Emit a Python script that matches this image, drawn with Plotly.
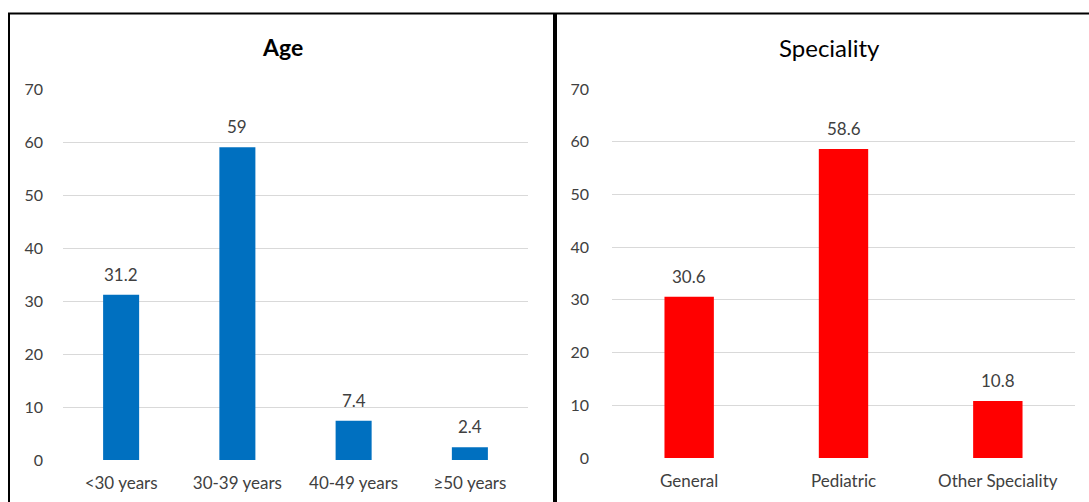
import plotly.graph_objects as go

# Age distribution (%)
age_groups = ["<30 years", "30-39 years", "40-49 years", "≥50 years"]
age_pct = [31.2, 59, 7.4, 2.4]

# Speciality distribution (%)
specialities = ["General", "Pediatric", "Other Speciality"]
spec_pct = [30.6, 58.6, 10.8]

y_ticks = [0, 10, 20, 30, 40, 50, 60, 70]

W, H = 1089, 502
FONT = "Lato"
TXT = "#404040"


def px_x(p):
    return p / W


def px_y(p):
    return (H - p) / H


fig = go.Figure()

fig.add_trace(go.Bar(
    x=age_groups, y=age_pct, xaxis="x", yaxis="y", width=0.31,
    marker=dict(color="#0070C0", line=dict(width=0)),
    hoverinfo="x+y",
))
fig.add_trace(go.Bar(
    x=specialities, y=spec_pct, xaxis="x2", yaxis="y2", width=0.32,
    marker=dict(color="#FF0000", line=dict(width=0)),
    hoverinfo="x+y",
))

# value labels above each bar
annotations = []
for cats, vals, xa, ya in [(age_groups, age_pct, "x", "y"),
                           (specialities, spec_pct, "x2", "y2")]:
    for c, v in zip(cats, vals):
        annotations.append(dict(
            x=c, y=v, xref=xa, yref=ya, text=f"{v:g}", showarrow=False,
            yanchor="bottom", yshift=8,
            font=dict(family=FONT, size=17, color=TXT),
        ))

# panel titles
annotations.append(dict(
    x=px_x(282), y=px_y(47), xref="paper", yref="paper", text="<b>Age</b>",
    showarrow=False, xanchor="center", yanchor="middle",
    font=dict(family=FONT, size=23, color="#000000"),
))
annotations.append(dict(
    x=px_x(829), y=px_y(47), xref="paper", yref="paper", text="Speciality",
    showarrow=False, xanchor="center", yanchor="middle",
    font=dict(family=FONT, size=24, color="#000000"),
))

axis_common = dict(
    showline=False, zeroline=False, ticks="", automargin=False,
    fixedrange=True,
)
xaxis_common = dict(
    axis_common, showgrid=False, ticklabelstandoff=11,
    tickfont=dict(family=FONT, size=17, color=TXT),
)
yaxis_common = dict(
    axis_common, range=[0, 70], tickvals=y_ticks,
    showgrid=True, gridcolor="#D9D9D9", gridwidth=1,
    tickfont=dict(family=FONT, size=16, color=TXT),
)

# panel frames
shapes = [
    dict(type="line", xref="paper", yref="paper",
         x0=px_x(8), x1=1, y0=px_y(13.5), y1=px_y(13.5),
         line=dict(color="#000000", width=2)),
    dict(type="line", xref="paper", yref="paper",
         x0=px_x(9), x1=px_x(9), y0=px_y(13), y1=0,
         line=dict(color="#000000", width=2)),
    dict(type="line", xref="paper", yref="paper",
         x0=px_x(555), x1=px_x(555), y0=px_y(13), y1=0,
         line=dict(color="#000000", width=4)),
]

fig.update_layout(
    template="none",
    width=W, height=H,
    margin=dict(l=0, r=0, t=0, b=0, pad=0, autoexpand=False),
    paper_bgcolor="white", plot_bgcolor="white",
    showlegend=False,
    xaxis=dict(xaxis_common, domain=[px_x(63), px_x(528)], anchor="y"),
    yaxis=dict(yaxis_common, domain=[px_y(460), px_y(89)], anchor="x",
               ticklabelstandoff=19),
    xaxis2=dict(xaxis_common, domain=[px_x(612), px_x(1075)], anchor="y2"),
    yaxis2=dict(yaxis_common, domain=[px_y(458), px_y(89)], anchor="x2",
                ticklabelstandoff=22),
    annotations=annotations,
    shapes=shapes,
)

fig.write_html("out.html")
